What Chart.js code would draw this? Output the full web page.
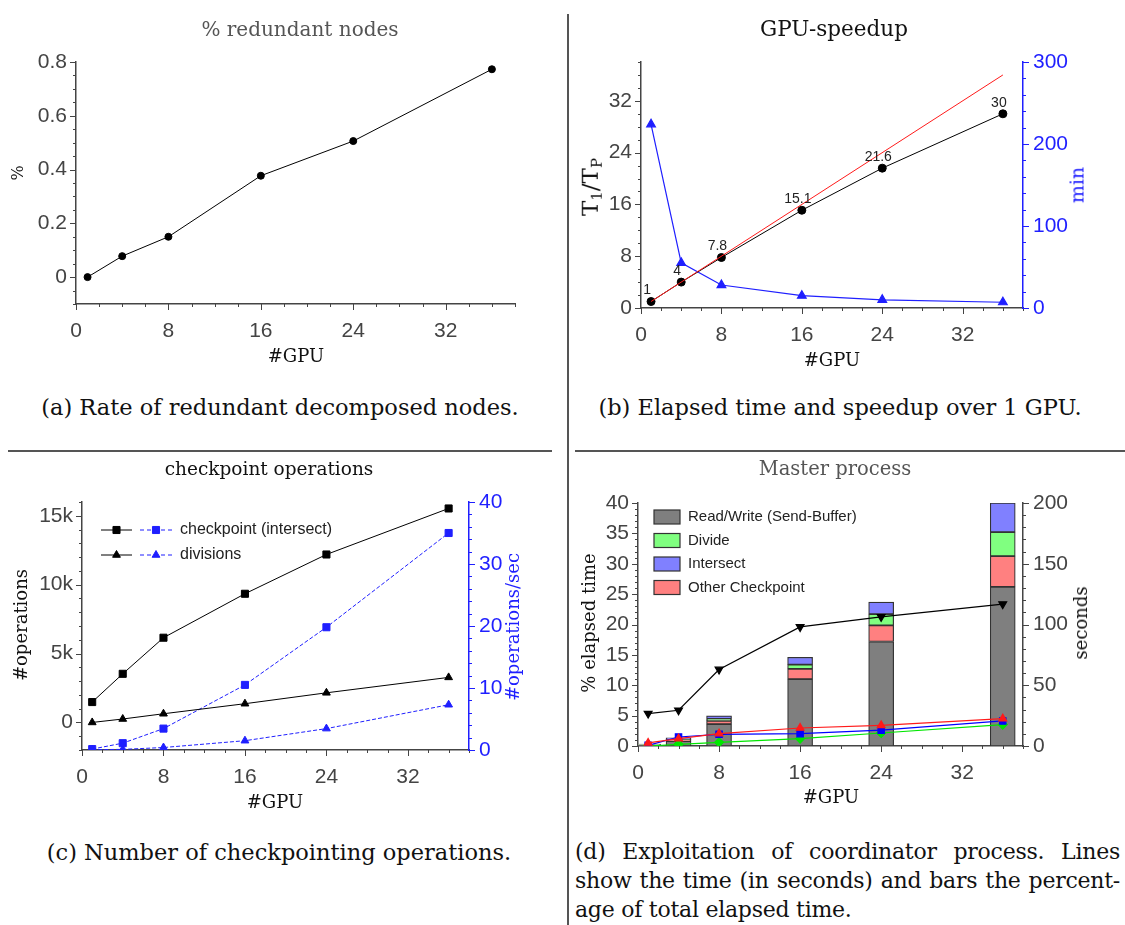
<!DOCTYPE html>
<html>
<head>
<meta charset="utf-8">
<title>GPU checkpointing figure</title>
<script src="https://cdn.jsdelivr.net/npm/chart.js@4.4.1/dist/chart.umd.min.js"></script>
<style>
  html, body { margin: 0; padding: 0; background: #fff; }
  #fig { position: relative; width: 1125px; height: 925px; overflow: hidden; background: #fff; }
  #fig canvas { position: absolute; }
  .lbl { position: absolute; font-family: "DejaVu Serif", serif; color: #111; white-space: nowrap; line-height: 1; transform: translate(-50%, -50%); }
  .rot { transform: translate(-50%, -50%) rotate(-90deg); }
  .rule { position: absolute; background: #555; }
  .cap { position: absolute; left: 575px; width: 545px; font-family: "DejaVu Serif", serif; font-size: 22px; letter-spacing: -0.25px; color: #111; white-space: nowrap; line-height: 1; }
  .just { text-align: justify; text-align-last: justify; }
  sub { font-size: 65%; vertical-align: -0.3em; }
</style>
</head>
<body>
<div id="fig">
  <div class="rule" style="left:567px; top:14px; width:1.5px; height:911px;"></div>
  <div class="rule" style="left:8px; top:450px; width:544px; height:1.5px;"></div>
  <div class="rule" style="left:575px; top:450px; width:550px; height:1.5px;"></div>

  <canvas id="chartA" width="565" height="390" style="left:0; top:0;"></canvas>
  <canvas id="chartB" width="560" height="390" style="left:565px; top:0;"></canvas>
  <canvas id="chartC" width="565" height="390" style="left:0; top:440px;"></canvas>
  <canvas id="chartD" width="560" height="390" style="left:565px; top:440px;"></canvas>

  <!-- panel titles -->
  <div class="lbl" style="left:300px; top:29px; font-size:20px; color:#555;">% redundant nodes</div>
  <div class="lbl" style="left:834px; top:29px; font-size:21.5px;">GPU-speedup</div>
  <div class="lbl" style="left:269px; top:469px; font-size:18.5px;">checkpoint operations</div>
  <div class="lbl" style="left:835px; top:469px; font-size:19.5px; color:#555;">Master process</div>

  <!-- axis titles -->
  <div class="lbl rot" style="left:18px; top:173px; font-size:16px;">%</div>
  <div class="lbl" style="left:296px; top:356px; font-size:18px;">#GPU</div>
  <div class="lbl rot" style="left:592px; top:187px; font-size:23px;">T<sub>1</sub>/T<sub>P</sub></div>
  <div class="lbl rot" style="left:1077px; top:185px; font-size:19px; color:#1f1fff;">min</div>
  <div class="lbl" style="left:832px; top:360px; font-size:18px;">#GPU</div>
  <div class="lbl rot" style="left:21px; top:625px; font-size:18px;">#operations</div>
  <div class="lbl rot" style="left:513px; top:627px; font-size:18px; color:#1f1fff;">#operations/sec</div>
  <div class="lbl" style="left:275px; top:802px; font-size:18px;">#GPU</div>
  <div class="lbl rot" style="left:589px; top:623px; font-size:18px;">% elapsed time</div>
  <div class="lbl rot" style="left:1081px; top:623px; font-size:18px;">seconds</div>
  <div class="lbl" style="left:831px; top:797px; font-size:18px;">#GPU</div>

  <!-- captions -->
  <div class="lbl" style="left:280px; top:407px; font-size:22.5px;">(a) Rate of redundant decomposed nodes.</div>
  <div class="lbl" style="left:840px; top:407px; font-size:22.5px;">(b) Elapsed time and speedup over 1 GPU.</div>
  <div class="lbl" style="left:279px; top:852px; font-size:22.5px;">(c) Number of checkpointing operations.</div>
  <div class="cap just" style="top:841px;">(d) Exploitation of coordinator process. Lines</div>
  <div class="cap just" style="top:870px;">show the time (in seconds) and bars the percent-</div>
  <div class="cap" style="top:899px;">age of total elapsed time.</div>
</div>

<script>
// ---- data ----
const gpus = [1, 4, 8, 16, 24, 36];
const gpuTicks = [0, 8, 16, 24, 32];

// (a) % redundant nodes
const redundantPct = [0, 0.078, 0.15, 0.377, 0.506, 0.773];
const redundantTicks = [0, 0.2, 0.4, 0.6, 0.8];

// (b) speedup and elapsed minutes
const speedup = [1, 4, 7.8, 15.1, 21.6, 30];
const speedupText = ['1', '4', '7.8', '15.1', '21.6', '30'];
const idealGpus = [1, 36];
const elapsedMin = [224, 55, 28, 15, 10, 7];
const speedupTicks = [0, 8, 16, 24, 32];
const minTicks = [0, 100, 200, 300];

// (c) checkpoint operations
const opsSeries = ['checkpoint (intersect)', 'divisions'];
const checkpointOps = [1480, 3530, 6150, 9340, 12190, 15530];
const divisionOps = [0, 250, 630, 1360, 2150, 3270];
const checkpointRate = [0.15, 1.1, 3.45, 10.5, 19.8, 35];
const divisionRate = [0.05, 0.1, 0.4, 1.5, 3.45, 7.3];
const opsTicks = [0, 5000, 10000, 15000];
const rateTicks = [0, 10, 20, 30, 40];

// (d) master process
const barSeries = ['Read/Write (Send-Buffer)', 'Divide', 'Intersect', 'Other Checkpoint'];
const readWritePct = [0.15, 0.8, 3.6, 11.0, 17.2, 26.2];
const dividePct = [0.05, 0.1, 0.3, 0.7, 1.85, 3.95];
const intersectPct = [0.05, 0.2, 0.5, 1.2, 2.0, 4.8];
const otherCkptPct = [0.05, 0.25, 0.55, 1.7, 2.65, 5.05];
const masterSec = [26.7, 29.4, 63, 98, 106.3, 116.8];
const otherCkptSec = [2.5, 6.1, 10.2, 14.8, 17, 22.5];
const intersectSec = [0.5, 7.4, 9.6, 10.2, 13, 20.6];
const divideSec = [0, 1.4, 3.0, 6.1, 10.7, 17.6];
const pctTicks = [0, 5, 10, 15, 20, 25, 30, 35, 40];
const secTicks = [0, 50, 100, 150, 200];

// ---- styling helpers ----
const sansFont = '"Liberation Sans", Arial, sans-serif';
const axisGray = '#444';
const blue = '#1f1fff';
const barFill = ['#7f7f7f', '#80ff80', '#8080ff', '#ff8080'];

function xy(xs, ys) { return xs.map((x, i) => ({ x: x, y: ys[i] })); }
function keepTicks(values) { return s => { s.ticks = values.map(v => ({ value: v })); }; }

function gpuAxis() {
  return {
    type: 'linear', position: 'bottom', min: 0, max: 38, offset: false, stacked: true,
    afterBuildTicks: keepTicks(gpuTicks),
    afterFit: s => { s.height = 70; },
    grid: { display: false, drawTicks: false },
    border: { color: axisGray, width: 1.5 },
    ticks: { font: { family: sansFont, size: 21 }, color: axisGray, padding: 15 }
  };
}

function valueAxis(pos, min, max, values, width, color, fmt) {
  return {
    type: 'linear', position: pos, min: min, max: max,
    afterBuildTicks: keepTicks(values),
    afterFit: s => { s.width = width; },
    grid: { display: false, drawTicks: false },
    border: { color: color, width: 1.5 },
    ticks: { font: { family: sansFont, size: 21 }, color: color, padding: pos === 'left' ? 9 : 10, callback: fmt || (v => String(v)) }
  };
}

// small outward tick marks, majors longer
function tickMarks(spec) {
  return {
    id: 'tickMarks',
    afterDraw(chart) {
      const ctx = chart.ctx;
      for (const id in spec) {
        const s = chart.scales[id];
        const [step, major, color] = spec[id];
        const n = Math.round((s.max - s.min) / step);
        ctx.save();
        ctx.strokeStyle = color;
        ctx.lineWidth = 1;
        ctx.beginPath();
        for (let i = 0; i <= n; i++) {
          const v = s.min + i * step;
          const r = v / major;
          const len = Math.abs(r - Math.round(r)) < 1e-6 ? 6 : 3;
          const p = Math.round(s.getPixelForValue(v)) + 0.5;
          if (s.position === 'bottom') { ctx.moveTo(p, s.top); ctx.lineTo(p, s.top + len); }
          else if (s.position === 'left') { ctx.moveTo(s.right, p); ctx.lineTo(s.right - len, p); }
          else { ctx.moveTo(s.left, p); ctx.lineTo(s.left + len, p); }
        }
        ctx.stroke();
        ctx.restore();
      }
    }
  };
}

function pointNotes(datasetIndex, texts) {
  return {
    id: 'pointNotes',
    afterDatasetsDraw(chart) {
      const ctx = chart.ctx;
      ctx.save();
      ctx.font = '14px ' + sansFont;
      ctx.fillStyle = '#222';
      ctx.textAlign = 'center';
      ctx.textBaseline = 'bottom';
      chart.getDatasetMeta(datasetIndex).data.forEach((p, i) => ctx.fillText(texts[i], p.x - 4, p.y - 4));
      ctx.restore();
    }
  };
}

function opsLegend(labels) {
  const styles = ['rect', 'triangle'];
  return {
    id: 'opsLegend',
    afterDraw(chart) {
      const ctx = chart.ctx;
      labels.forEach((text, i) => {
        const y = 90 + i * 25;
        const mark = { pointStyle: styles[i], radius: i ? 4.5 : 5, rotation: 0, borderWidth: 1 };
        ctx.save();
        ctx.lineWidth = 1;
        ctx.strokeStyle = '#000'; ctx.fillStyle = '#000';
        ctx.beginPath(); ctx.moveTo(101, y); ctx.lineTo(132, y); ctx.stroke();
        Chart.helpers.drawPoint(ctx, mark, 116.5, y);
        ctx.strokeStyle = blue; ctx.fillStyle = blue;
        ctx.setLineDash([4, 3]);
        ctx.beginPath(); ctx.moveTo(140, y); ctx.lineTo(172, y); ctx.stroke();
        ctx.setLineDash([]);
        Chart.helpers.drawPoint(ctx, mark, 156, y);
        ctx.fillStyle = '#222';
        ctx.font = '16px ' + sansFont;
        ctx.textAlign = 'left';
        ctx.textBaseline = 'middle';
        ctx.fillText(text, 180, y);
        ctx.restore();
      });
    }
  };
}

function stackLegend(labels, fills) {
  return {
    id: 'stackLegend',
    afterDraw(chart) {
      const ctx = chart.ctx;
      labels.forEach((text, i) => {
        const y = 77 + i * 23.5;
        ctx.save();
        ctx.fillStyle = fills[i];
        ctx.strokeStyle = '#333';
        ctx.lineWidth = 1.2;
        ctx.fillRect(89, y - 7, 26, 14);
        ctx.strokeRect(89, y - 7, 26, 14);
        ctx.fillStyle = '#222';
        ctx.font = '15px ' + sansFont;
        ctx.textAlign = 'left';
        ctx.textBaseline = 'middle';
        ctx.fillText(text, 123, y);
        ctx.restore();
      });
    }
  };
}

const baseOpts = {
  responsive: false,
  animation: false,
  plugins: { legend: { display: false }, tooltip: { enabled: false } }
};

// (a)
new Chart(document.getElementById('chartA'), {
  type: 'line',
  data: {
    datasets: [{
      data: xy(gpus, redundantPct),
      borderColor: '#000', backgroundColor: '#000', borderWidth: 1,
      pointRadius: 3.5, pointBorderWidth: 1
    }]
  },
  options: Object.assign({}, baseOpts, {
    layout: { padding: { left: 0, right: 50, top: 62, bottom: 16 } },
    scales: {
      x: gpuAxis(),
      y: valueAxis('left', -0.1, 0.8, redundantTicks, 76, axisGray)
    }
  }),
  plugins: [tickMarks({ x: [2, 8, axisGray], y: [0.05, 0.2, axisGray] })]
});

// (b)
new Chart(document.getElementById('chartB'), {
  type: 'line',
  data: {
    datasets: [
      { data: xy(idealGpus, idealGpus), borderColor: '#ff1a1a', borderWidth: 1, pointRadius: 0, yAxisID: 'y' },
      { data: xy(gpus, speedup), borderColor: '#000', backgroundColor: '#000', borderWidth: 1, pointRadius: 4, yAxisID: 'y' },
      { data: xy(gpus, elapsedMin), borderColor: '#1f1fff', backgroundColor: '#1f1fff', borderWidth: 1.2,
        pointStyle: 'triangle', pointRadius: 5, yAxisID: 'y1' }
    ]
  },
  options: Object.assign({}, baseOpts, {
    layout: { padding: { left: 0, right: 32, top: 62, bottom: 12 } },
    scales: {
      x: gpuAxis(),
      y: valueAxis('left', 0, 38, speedupTicks, 76, axisGray),
      y1: valueAxis('right', 0, 300, minTicks, 70, blue)
    }
  }),
  plugins: [
    tickMarks({ x: [2, 8, axisGray], y: [2, 8, axisGray], y1: [20, 100, blue] }),
    pointNotes(1, speedupText)
  ]
});

// (c)
new Chart(document.getElementById('chartC'), {
  type: 'line',
  data: {
    datasets: [
      { data: xy(gpus, checkpointOps), borderColor: '#000', backgroundColor: '#000', borderWidth: 1,
        pointStyle: 'rect', pointRadius: 5, yAxisID: 'y' },
      { data: xy(gpus, divisionOps), borderColor: '#000', backgroundColor: '#000', borderWidth: 1,
        pointStyle: 'triangle', pointRadius: 4.5, yAxisID: 'y' },
      { data: xy(gpus, checkpointRate), borderColor: blue, backgroundColor: blue, borderWidth: 1,
        borderDash: [4, 2], pointStyle: 'rect', pointRadius: 5, yAxisID: 'y1' },
      { data: xy(gpus, divisionRate), borderColor: blue, backgroundColor: blue, borderWidth: 1,
        borderDash: [4, 2], pointStyle: 'triangle', pointRadius: 4.5, yAxisID: 'y1' }
    ]
  },
  options: Object.assign({}, baseOpts, {
    layout: { padding: { left: 0, right: 36, top: 62, bottom: 10 } },
    scales: {
      x: gpuAxis(),
      y: valueAxis('left', -2000, 16000, opsTicks, 82, axisGray, v => v === 0 ? '0' : (v / 1000) + 'k'),
      y1: valueAxis('right', 0, 40, rateTicks, 60, blue)
    }
  }),
  plugins: [
    tickMarks({ x: [2, 8, axisGray], y: [1000, 5000, axisGray], y1: [2, 10, blue] }),
    opsLegend(opsSeries)
  ]
});

// (d)
const lineStyle = (values, color, style, rotation) => ({
  type: 'line', data: xy(gpus, values), yAxisID: 'y1', order: 0,
  borderColor: color, backgroundColor: color, borderWidth: 1.2,
  pointStyle: style, pointRadius: 4.5, pointRotation: rotation || 0
});
const barStyle = (values, fill, label) => ({
  type: 'bar', label: label, data: xy(gpus, values), yAxisID: 'y', order: 1,
  backgroundColor: fill, borderColor: '#333', borderWidth: 1.2, borderSkipped: false, barThickness: 25
});

new Chart(document.getElementById('chartD'), {
  type: 'bar',
  data: {
    datasets: [
      lineStyle(masterSec, '#000', 'triangle', 180),
      lineStyle(otherCkptSec, '#ff1a1a', 'triangle'),
      lineStyle(intersectSec, '#0000ff', 'rect'),
      lineStyle(divideSec, '#00e600', 'rectRot'),
      barStyle(readWritePct, barFill[0], barSeries[0]),
      barStyle(otherCkptPct, barFill[3], barSeries[3]),
      barStyle(dividePct, barFill[1], barSeries[1]),
      barStyle(intersectPct, barFill[2], barSeries[2])
    ]
  },
  options: Object.assign({}, baseOpts, {
    layout: { padding: { left: 0, right: 32, top: 63, bottom: 14 } },
    scales: {
      x: gpuAxis(),
      y: Object.assign(valueAxis('left', 0, 40, pctTicks, 73, axisGray), { stacked: true }),
      y1: valueAxis('right', 0, 200, secTicks, 70, axisGray)
    }
  }),
  plugins: [
    tickMarks({ x: [2, 8, axisGray], y: [1, 5, axisGray], y1: [10, 50, axisGray] }),
    stackLegend(barSeries, barFill)
  ]
});
</script>
</body>
</html>
